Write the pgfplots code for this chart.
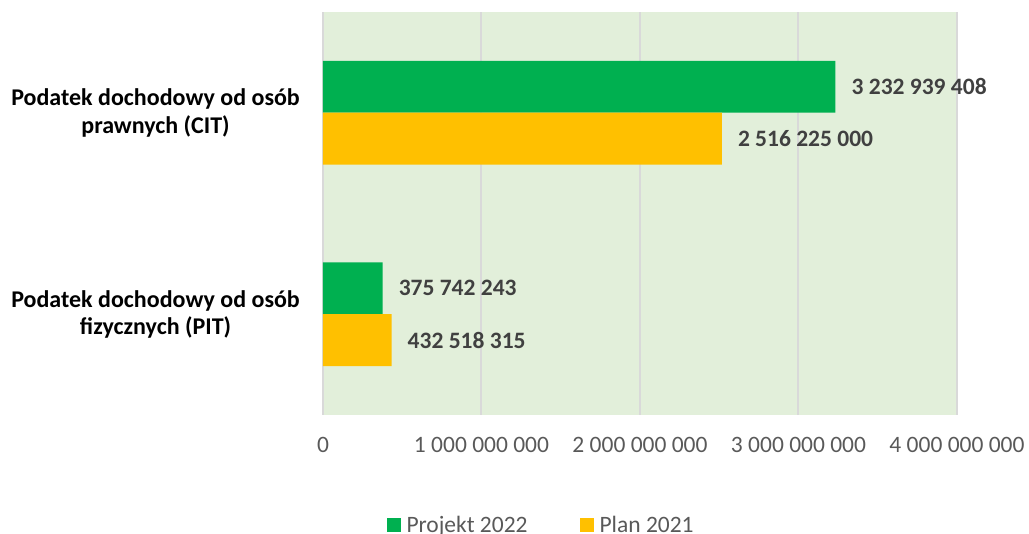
\documentclass[border=0pt]{standalone}
\usepackage{fontspec}
\setmainfont{Carlito}
\usepackage{pgfplots}
\usepackage{pgfplotstable}
\pgfplotsset{compat=1.18}
\definecolor{cgreen}{HTML}{00B050}
\definecolor{cgold}{HTML}{FFC000}
\definecolor{cbg}{HTML}{E2EFDA}
\definecolor{cgrid}{HTML}{D9D9D9}
\definecolor{clab}{HTML}{404040}
\definecolor{ctick}{HTML}{595959}

\pgfplotstableread[col sep=comma]{
y,x,label
1,3232939408,3 232 939 408
0,375742243,375 742 243
}\projekt
\pgfplotstableread[col sep=comma]{
y,x,label
1,2516225000,2 516 225 000
0,432518315,432 518 315
}\plan

\newcommand{\f}{\fontsize{23.5}{28}\selectfont}

\begin{document}
\begin{tikzpicture}[x=1pt,y=1pt]
\useasboundingbox (-323,-119) rectangle (706,415);
\begin{axis}[
  at={(0,0)}, anchor=south west,
  scale only axis, width=634pt, height=403pt,
  xmin=0, xmax=4000000000, ymin=-0.5, ymax=1.5,
  xbar, bar width=0.257,
  axis background/.style={fill=cbg},
  axis line style={draw=none},
  scaled x ticks=false,
  xtick={0,1000000000,2000000000,3000000000,4000000000},
  xticklabels={0,1 000 000 000,2 000 000 000,3 000 000 000,4 000 000 000},
  xmajorgrids, major grid style={draw=cgrid, line width=2pt},
  ytick={0,1},
  yticklabels={{Podatek dochodowy od osób\\fizycznych (PIT)},{Podatek dochodowy od osób\\prawnych (CIT)}},
  major tick length=0pt,
  xticklabel style={anchor=center, yshift=-30pt, font=\f, text=ctick, inner sep=0pt},
  yticklabel style={anchor=east, align=center, xshift=-23pt, inner sep=0pt, font=\bfseries\fontsize{24}{27.5}\selectfont, text=black},
  nodes near coords={\pgfplotspointmeta},
  point meta=explicit symbolic,
  nodes near coords style={anchor=west, inner sep=0pt, xshift=16pt, font=\bfseries\f, text=clab},
  legend style={at={(0.344,-0.272)}, anchor=center, draw=none, fill=none,
    legend columns=2, font=\f, text=ctick,
    /tikz/every even column/.append style={column sep=50pt}},
  legend image code/.code={\fill[#1] (0pt,-7pt) rectangle (14pt,7pt); \path (18pt,0pt);},
  clip=false,
]
\addplot[fill=cgreen, draw=none, bar shift=0.1285] table[x=x, y=y, meta=label]{\projekt};
\addplot[fill=cgold, draw=none, bar shift=-0.1285] table[x=x, y=y, meta=label]{\plan};
\legend{Projekt 2022, Plan 2021}
\end{axis}
\end{tikzpicture}
\end{document}
